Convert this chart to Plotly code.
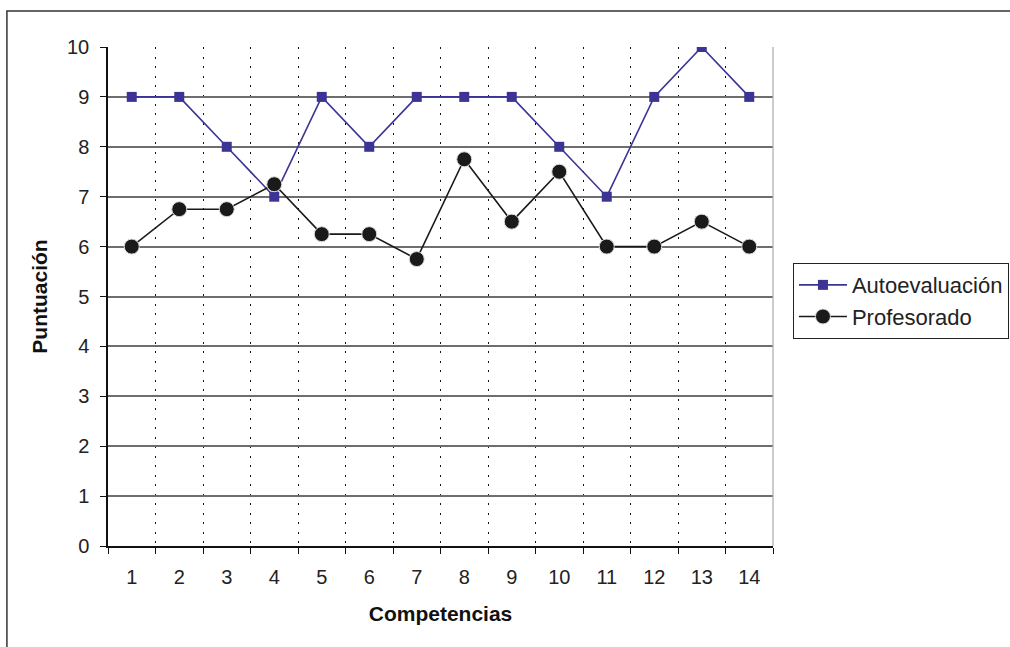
import plotly.graph_objects as go

categorias = list(range(1, 15))
autoevaluacion = [9, 9, 8, 7, 9, 8, 9, 9, 9, 8, 7, 9, 10, 9]
profesorado = [6.0, 6.75, 6.75, 7.25, 6.25, 6.25, 5.75, 7.75, 6.5, 7.5, 6.0, 6.0, 6.5, 6.0]
y_ticks = list(range(0, 11))

FONT = "Liberation Sans, Arial, sans-serif"
BLUE = "#3b3494"

fig = go.Figure()
fig.add_trace(go.Scatter(
    x=categorias, y=autoevaluacion, name="Autoevaluación",
    mode="lines+markers",
    line=dict(color=BLUE, width=1.6),
    marker=dict(symbol="square", size=10, color=BLUE, line=dict(width=0)),
))
fig.add_trace(go.Scatter(
    x=categorias, y=profesorado, name="Profesorado",
    mode="lines+markers",
    line=dict(color="#1a1a1a", width=1.6),
    marker=dict(symbol="circle", size=15, color="#1a1a1a", line=dict(color="#dddddd", width=1)),
))

fig.update_layout(
    width=1010, height=647,
    margin=dict(l=108, r=237, t=47, b=101, autoexpand=False),
    paper_bgcolor="white", plot_bgcolor="white",
    font=dict(family=FONT, size=20, color="#222222"),
    showlegend=True,
    legend=dict(
        x=1.03, y=0.567, xanchor="left", yanchor="top",
        bordercolor="#222222", borderwidth=1,
        font=dict(size=22, color="#222222"),
        bgcolor="white", tracegroupgap=0, itemwidth=48,
    ),
    xaxis=dict(
        range=[0.5, 14.5], tickmode="array", tickvals=categorias,
        ticktext=[str(c) for c in categorias],
        ticks="", showgrid=False, zeroline=False,
        showline=True, linecolor="#111111", linewidth=1.5,
        ticklabelstandoff=12,
        minor=dict(tick0=0.5, dtick=1, ticks="outside", ticklen=6, tickcolor="#111111",
                   tickwidth=1, showgrid=True, gridcolor="#111111", gridwidth=1.2,
                   griddash="2px,7.5px"),
        title=dict(text="<b>Competencias</b>", font=dict(size=21, color="#111111"), standoff=20),
        fixedrange=True,
    ),
    yaxis=dict(
        range=[0, 10], tickmode="array", tickvals=y_ticks,
        ticks="outside", ticklen=6, tickcolor="#111111", tickwidth=1,
        showgrid=True, gridcolor="#6e6e6e", gridwidth=1.5, zeroline=False,
        showline=True, linecolor="#111111", linewidth=1.5,
        ticklabelstandoff=7,
        title=dict(text="<b>Puntuación</b>", font=dict(size=21, color="#111111"), standoff=14),
        fixedrange=True,
    ),
    shapes=[
        dict(type="line", xref="paper", yref="paper", x0=1, x1=1, y0=0, y1=1,
             line=dict(color="#aaaaaa", width=1.2), layer="above"),
        dict(type="rect", xref="paper", yref="paper", x0=-0.152, x1=1.6, y0=-0.3, y1=1.072,
             line=dict(color="#333333", width=1.5), layer="below"),
    ],
)

fig.write_html("out.html", config={"displayModeBar": False},
               post_script="document.body.style.margin='0';")
